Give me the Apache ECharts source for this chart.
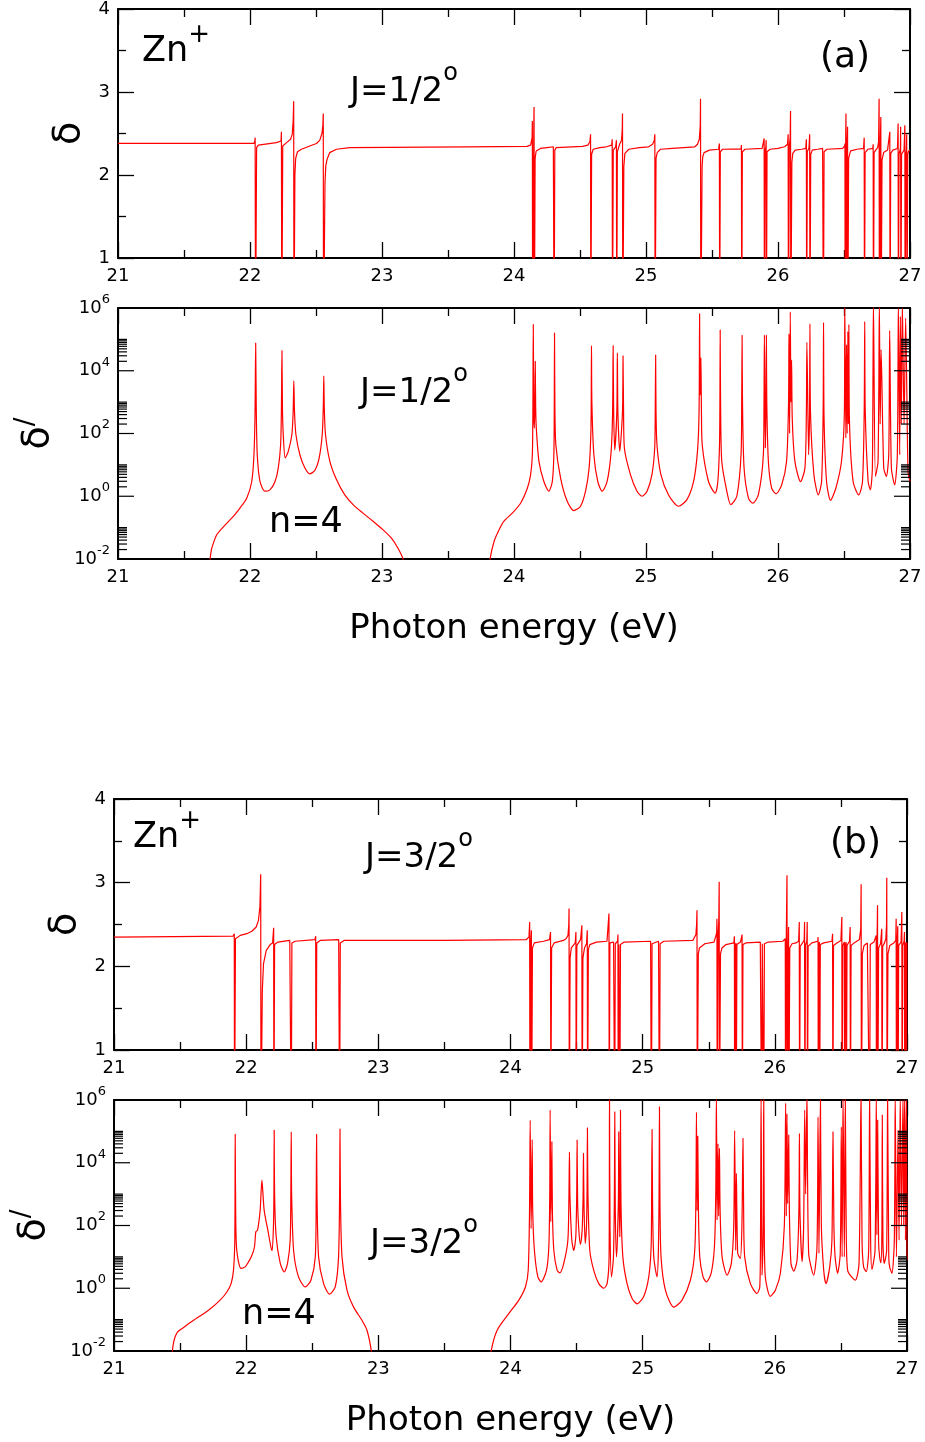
<!DOCTYPE html>
<html>
<head>
<meta charset="utf-8">
<script src="https://cdn.jsdelivr.net/npm/echarts@6/dist/echarts.min.js"></script>
<style>
html, body { margin: 0; padding: 0; background: #fff; }
#chart { width: 925px; height: 1442px; }
</style>
</head>
<body>
<div id="chart"></div>
<script>
// phase sum delta, J=1/2 odd  (values below 1 run off the bottom of the panel)
var deltaA = [
  [21.00,2.38],[22.00,2.38],[22.030,2.38],[22.037,2.41],[22.039,2.45],[22.042,0],[22.048,0],[22.050,2.33],[22.063,2.36],[22.200,2.39],[22.235,2.41],
  [22.238,2.52],[22.241,0],[22.246,0],[22.248,2.35],[22.277,2.39],[22.307,2.43],[22.320,2.49],[22.327,2.65],
  [22.331,2.89],[22.333,0],[22.338,0],[22.340,2.0],[22.346,2.2],[22.360,2.28],[22.390,2.31],[22.453,2.35],[22.504,2.38],[22.529,2.42],[22.545,2.50],[22.552,2.60],
  [22.555,2.74],[22.557,0],[22.565,0],[22.568,1.9],[22.574,2.11],[22.584,2.19],[22.604,2.27],[22.655,2.31],[22.756,2.33],[23.640,2.34],[24.100,2.345],
  [24.126,2.36],[24.137,2.45],[24.139,2.65],[24.141,0],[24.146,0],[24.150,2.60],[24.152,2.82],[24.154,0],[24.158,0],[24.160,2.20],[24.168,2.29],[24.200,2.32],[24.250,2.33],
  [24.298,2.34],[24.302,2.36],[24.304,0],[24.307,0],[24.309,2.30],[24.320,2.33],[24.520,2.345],[24.560,2.36],[24.575,2.40],
  [24.580,2.49],[24.582,0],[24.586,0],[24.588,2.25],[24.600,2.31],[24.650,2.33],[24.700,2.34],[24.740,2.36],
  [24.744,2.43],[24.746,0],[24.750,0],[24.752,2.30],[24.770,2.34],[24.776,2.42],[24.778,0],[24.781,0],[24.783,2.28],[24.800,2.37],[24.815,2.42],[24.820,2.55],
  [24.822,2.74],[24.824,0],[24.829,0],[24.832,2.10],[24.840,2.26],[24.870,2.31],[24.950,2.33],[25.020,2.34],[25.050,2.37],[25.063,2.42],
  [25.067,2.49],[25.069,0],[25.074,0],[25.076,2.20],[25.085,2.27],[25.110,2.31],[25.200,2.32],[25.370,2.34],[25.390,2.37],[25.404,2.43],[25.411,2.60],
  [25.413,2.92],[25.415,0],[25.422,0],[25.425,2.10],[25.430,2.22],[25.440,2.27],[25.480,2.30],[25.550,2.31],
  [25.554,2.32],[25.556,2.38],[25.558,0],[25.561,0],[25.563,2.28],[25.580,2.31],
  [25.720,2.315],[25.723,2.36],[25.725,0],[25.728,0],[25.730,2.28],[25.750,2.31],
  [25.880,2.32],[25.893,2.34],[25.895,2.44],[25.897,0],[25.900,0],[25.902,2.30],[25.908,2.34],[25.910,2.42],[25.912,0],[25.915,0],[25.917,2.28],[25.940,2.31],
  [26.000,2.32],[26.050,2.34],[26.072,2.37],[26.077,2.49],[26.079,0],[26.083,0],[26.086,2.35],[26.092,2.45],[26.095,2.77],[26.097,0],[26.102,0],[26.105,2.15],[26.112,2.26],[26.130,2.30],[26.180,2.31],
  [26.210,2.32],[26.215,2.43],[26.217,0],[26.220,0],[26.222,2.28],[26.235,2.33],[26.240,2.49],[26.242,0],[26.246,0],[26.248,2.25],[26.260,2.30],[26.300,2.31],
  [26.338,2.32],[26.342,2.34],[26.344,0],[26.347,0],[26.349,2.28],[26.370,2.31],
  [26.490,2.32],[26.505,2.35],[26.507,2.38],[26.509,0],[26.511,0],[26.513,2.50],[26.515,2.74],[26.517,0],[26.520,0],[26.524,2.40],[26.527,2.58],[26.529,0],[26.533,0],[26.535,2.20],[26.550,2.29],[26.600,2.31],
  [26.648,2.32],[26.653,2.45],[26.655,0],[26.658,0],[26.660,2.27],[26.680,2.31],
  [26.718,2.32],[26.721,2.37],[26.723,0],[26.726,0],[26.728,2.27],[26.740,2.30],
  [26.755,2.33],[26.762,2.40],[26.766,2.92],[26.768,0],[26.772,0],[26.776,2.45],[26.779,2.70],[26.781,0],[26.785,0],[26.788,2.18],[26.800,2.27],[26.830,2.30],
  [26.844,2.32],[26.847,2.52],[26.849,0],[26.852,0],[26.854,2.26],[26.870,2.30],
  [26.905,2.32],[26.910,2.62],[26.912,0],[26.915,0],[26.917,2.25],[26.927,2.32],[26.929,2.58],[26.931,0],[26.934,0],[26.936,2.25],[26.955,2.30],
  [26.961,2.60],[26.963,0],[26.966,0],[26.968,2.25],[26.973,2.30],[26.975,2.49],[26.977,0],[26.980,0],[26.983,2.25],[26.990,2.29],[27.000,2.30]
];

// derivative delta', J=1/2 odd (log scale)
var dprimeA = [
  [21.690,0.003],[21.698,0.01],[21.704,0.016],[21.710,0.022],[21.748,0.059],[21.811,0.12],[21.874,0.23],[21.924,0.42],[21.975,0.87],[22.013,2.9],[22.030,21],[22.038,400],
  [22.043,7.6e4],[22.048,400],[22.055,21],[22.076,2.9],[22.113,1.45],[22.151,1.6],[22.189,2.9],[22.214,7.9],[22.232,44],[22.238,600],
  [22.242,4.4e4],[22.246,600],[22.252,91],[22.267,16.6],[22.290,27],[22.317,91],[22.327,500],
  [22.332,4.8e3],[22.337,500],[22.348,91],[22.378,21],[22.416,7.9],[22.453,5.2],[22.491,6.6],[22.524,16.6],[22.547,91],[22.555,600],
  [22.559,6.9e3],[22.563,600],[22.572,91],[22.605,13],[22.655,3.4],[22.718,1.1],[22.781,0.54],[22.856,0.29],[22.932,0.16],[23.008,0.085],[23.070,0.047],[23.121,0.022],[23.159,0.01],[23.170,0.003],
  [23.810,0.003],[23.819,0.01],[23.849,0.036],[23.887,0.085],[23.924,0.16],[23.987,0.29],[24.050,0.60],[24.101,1.8],[24.126,4.9],[24.139,21],[24.143,500],
  [24.146,3e5],[24.150,500],[24.154,148],[24.158,800],[24.161,2e4],[24.164,800],[24.169,148],[24.189,13],[24.227,2.9],[24.264,1.45],[24.290,2.9],[24.302,21],[24.305,600],
  [24.307,1.6e5],[24.310,600],[24.317,44],[24.353,3.8],[24.403,0.69],[24.453,0.35],[24.504,0.48],[24.542,1.45],[24.569,7.9],[24.582,91],[24.585,1000],
  [24.587,6.3e4],[24.590,1000],[24.605,21],[24.635,2.9],[24.668,1.45],[24.705,2.9],[24.736,27],[24.747,500],
  [24.751,6.3e4],[24.755,500],[24.763,30],[24.779,500],[24.783,3.7e4],[24.787,500],[24.801,27],[24.822,500],[24.826,3e4],[24.830,500],[24.836,35],
  [24.882,4.9],[24.932,1.45],[24.970,1.0],[25.008,1.45],[25.045,4.9],[25.066,35],[25.070,500],[25.073,3.2e4],[25.076,500],[25.083,44],
  [25.113,4.9],[25.171,1.1],[25.247,0.48],[25.310,0.78],[25.360,2.9],[25.390,27],[25.402,500],[25.406,6.6e5],[25.409,3000],[25.411,1700],[25.416,2.6e4],[25.420,500],[25.426,44],
  [25.474,2.9],[25.524,1.26],[25.544,2.9],[25.557,44],[25.560,1000],[25.562,2e5],[25.565,1000],[25.574,13],
  [25.612,1.45],[25.642,0.54],[25.688,1.0],[25.720,21],[25.725,1000],[25.728,1.35e5],[25.731,1000],[25.743,7.9],
  [25.776,0.87],[25.809,0.6],[25.851,1.1],[25.889,21],[25.894,1000],[25.897,1.4e5],[25.904,35],[25.909,1000],[25.912,1.35e5],[25.915,1000],[25.927,13],
  [25.952,1.8],[25.985,1.2],[26.028,2.3],[26.065,13],[26.080,1000],[26.083,1.5e5],[26.088,100],[26.093,7.5e5],[26.098,1000],[26.103,2.2e4],[26.108,300],[26.128,13],
  [26.171,2.9],[26.204,7.9],[26.215,500],[26.219,8e4],[26.232,21],[26.239,500],[26.242,3.1e5],[26.246,500],[26.272,4.9],
  [26.305,1.1],[26.330,2.9],[26.342,500],[26.345,3.5e5],[26.349,300],[26.368,2.9],[26.398,0.74],[26.438,1.8],[26.481,13],
  [26.503,500],[26.506,1.5e6],[26.514,72],[26.519,6.8e4],[26.524,100],[26.529,1.8e5],[26.533,200],[26.537,3e5],[26.541,300],[26.569,2.9],
  [26.612,1.1],[26.640,2.9],[26.653,500],[26.657,3.7e5],[26.661,500],[26.683,2.9],[26.700,1.6],[26.715,7.9],[26.723,1.5e6],[26.738,4.3],
  [26.758,13],[26.768,1.5e6],[26.774,200],[26.781,4.7e4],[26.801,7.9],[26.821,4.3],[26.839,21],[26.846,1.9e5],[26.859,7.9],[26.884,2.3],
  [26.904,21],[26.912,1.5e6],[26.922,21],[26.927,5.4e5],[26.934,200],[26.942,1.5e6],[26.955,200],[26.967,4.8e5],[26.985,6.2],[27.000,2.9]
];

// phase sum delta, J=3/2 odd
var deltaB = [
  [21.00,2.35],[21.900,2.36],[21.910,2.39],[21.912,0],[21.917,0],[21.919,2.33],[21.955,2.37],[22.005,2.39],[22.043,2.42],[22.076,2.47],[22.093,2.55],[22.104,2.71],
  [22.110,3.10],[22.112,0],[22.118,0],[22.122,1.7],[22.131,2.03],[22.152,2.19],[22.182,2.26],[22.200,2.28],
  [22.208,2.46],[22.210,0],[22.213,0],[22.215,2.26],[22.240,2.29],[22.330,2.31],
  [22.339,2.32],[22.341,0],[22.344,0],[22.346,2.28],[22.370,2.30],[22.520,2.32],
  [22.526,2.36],[22.528,0],[22.532,0],[22.534,2.28],[22.560,2.31],[22.700,2.32],
  [22.705,2.33],[22.707,0],[22.710,0],[22.712,2.28],[22.740,2.31],[23.500,2.31],[24.120,2.32],
  [24.140,2.35],[24.145,2.53],[24.147,0],[24.151,0],[24.154,2.30],[24.158,2.43],[24.160,0],[24.164,0],[24.166,2.22],[24.180,2.28],[24.250,2.30],
  [24.295,2.32],[24.303,2.41],[24.305,0],[24.309,0],[24.311,2.22],[24.330,2.28],[24.400,2.31],
  [24.420,2.33],[24.435,2.37],[24.441,2.50],[24.443,2.69],[24.445,0],[24.449,0],[24.451,2.10],[24.460,2.22],
  [24.490,2.28],[24.495,2.41],[24.497,0],[24.500,0],[24.502,2.25],
  [24.530,2.32],[24.540,2.49],[24.542,0],[24.546,0],[24.548,2.10],[24.560,2.22],
  [24.575,2.27],[24.581,2.43],[24.583,0],[24.587,0],[24.589,2.20],[24.600,2.26],[24.650,2.29],[24.730,2.30],
  [24.740,2.32],[24.745,2.63],[24.747,0],[24.750,0],[24.752,2.28],[24.780,2.29],
  [24.786,2.31],[24.788,0],[24.791,0],[24.793,2.27],
  [24.810,2.30],[24.813,2.38],[24.815,0],[24.818,0],[24.820,2.26],[24.825,2.28],[24.827,0],[24.830,0],[24.832,2.26],[24.860,2.29],[25.060,2.30],
  [25.064,2.32],[25.066,0],[25.069,0],[25.071,2.27],[25.120,2.30],
  [25.125,2.31],[25.127,0],[25.130,0],[25.132,2.27],[25.160,2.30],[25.380,2.31],
  [25.390,2.33],[25.403,2.38],[25.408,2.50],[25.411,2.67],[25.413,0],[25.418,0],[25.421,2.15],[25.430,2.22],[25.470,2.27],[25.540,2.29],
  [25.555,2.31],[25.560,2.40],[25.562,2.57],[25.564,0],[25.568,0],[25.571,2.40],[25.576,2.55],[25.579,3.01],[25.581,0],[25.586,0],[25.589,2.15],[25.600,2.22],[25.630,2.26],[25.690,2.28],
  [25.694,2.36],[25.696,0],[25.699,0],[25.701,2.25],[25.706,2.28],[25.708,0],[25.711,0],[25.713,2.26],[25.740,2.29],
  [25.752,2.38],[25.754,0],[25.757,0],[25.759,2.26],[25.780,2.28],[25.890,2.29],
  [25.898,2.30],[25.900,0],[25.903,0],[25.905,2.27],[25.914,2.29],[25.916,0],[25.919,0],[25.921,2.27],[25.950,2.29],[26.060,2.30],
  [26.075,2.31],[26.079,2.33],[26.081,0],[26.084,0],[26.087,2.40],[26.092,3.09],[26.094,0],[26.099,0],[26.102,2.30],[26.104,2.47],[26.106,0],[26.110,0],[26.113,2.22],[26.130,2.27],[26.160,2.28],
  [26.180,2.30],[26.185,2.53],[26.187,0],[26.190,0],[26.192,2.24],[26.210,2.28],
  [26.222,2.31],[26.225,2.53],[26.227,0],[26.230,0],[26.232,2.25],[26.242,2.30],[26.245,2.53],[26.247,0],[26.250,0],[26.252,2.24],[26.280,2.28],
  [26.325,2.30],[26.327,2.35],[26.329,0],[26.332,0],[26.334,2.26],[26.337,2.29],[26.339,0],[26.342,0],[26.344,2.26],[26.370,2.28],
  [26.432,2.30],[26.437,2.39],[26.439,0],[26.442,0],[26.444,2.25],[26.470,2.28],
  [26.500,2.31],[26.507,2.59],[26.509,0],[26.512,0],[26.514,2.25],[26.526,2.29],[26.528,0],[26.531,0],[26.533,2.26],[26.539,2.29],[26.541,0],[26.544,0],[26.546,2.25],
  [26.565,2.30],[26.570,2.47],[26.572,0],[26.575,0],[26.577,2.25],[26.600,2.28],
  [26.640,2.32],[26.650,2.45],[26.653,2.98],[26.655,0],[26.659,0],[26.662,2.15],[26.675,2.25],[26.700,2.28],
  [26.715,2.30],[26.717,0],[26.720,0],[26.722,2.26],[26.750,2.29],
  [26.765,2.30],[26.767,2.37],[26.769,0],[26.772,0],[26.774,2.35],[26.777,2.73],[26.779,0],[26.783,0],[26.785,2.22],[26.800,2.27],
  [26.809,2.45],[26.811,0],[26.814,0],[26.816,2.24],[26.830,2.28],
  [26.840,2.33],[26.845,2.50],[26.847,3.06],[26.849,0],[26.853,0],[26.856,2.15],[26.870,2.25],[26.900,2.28],
  [26.915,2.31],[26.918,2.57],[26.920,0],[26.923,0],[26.925,2.25],[26.930,2.48],[26.932,0],[26.935,0],[26.937,2.25],[26.955,2.29],
  [26.961,2.65],[26.963,0],[26.966,0],[26.968,2.25],[26.978,2.30],[26.981,2.41],[26.983,0],[26.986,0],[26.988,2.26],[26.993,2.29],[26.995,0],[26.997,0],[26.999,2.26],[27.000,2.28]
];

// derivative delta', J=3/2 odd (log scale)
var dprimeB = [
  [21.435,0.003],[21.442,0.01],[21.448,0.016],[21.455,0.022],[21.462,0.028],[21.480,0.040],[21.513,0.051],[21.601,0.095],[21.715,0.2],[21.803,0.42],[21.854,0.76],[21.886,1.4],[21.904,3.7],[21.914,34],
  [21.917,8.1e4],[21.921,200],[21.929,16],[21.960,4.3],[21.992,4.8],[22.018,6.9],[22.043,11],[22.063,21],[22.073,63],[22.086,71],[22.106,310],
  [22.119,2800],[22.136,310],[22.164,71],[22.187,21],[22.197,16],[22.207,115],[22.210,1000],
  [22.212,1.1e5],[22.215,1000],[22.227,44],[22.258,6.2],[22.288,3.3],[22.313,6.2],[22.333,34],[22.338,1000],
  [22.341,9.7e4],[22.344,1000],[22.359,16],[22.396,2.3],[22.447,1.1],[22.490,1.8],[22.523,10],[22.530,1000],
  [22.533,8.1e4],[22.536,1000],[22.548,10],[22.586,1.4],[22.631,0.65],[22.674,1.1],[22.699,10],[22.707,1000],
  [22.710,1.2e5],[22.713,1000],[22.725,10],[22.763,0.87],[22.813,0.25],[22.876,0.095],[22.914,0.046],[22.947,0.01],[22.955,0.003],
  [23.848,0.003],[23.854,0.01],[23.899,0.046],[23.987,0.155],[24.063,0.42],[24.113,1.1],[24.134,3.7],[24.144,300],
  [24.149,2.3e5],[24.156,80],[24.164,5.5e4],[24.168,300],[24.181,16],[24.207,2.3],[24.232,1.6],[24.272,3.7],[24.290,21],[24.297,1000],
  [24.300,4.8e5],[24.305,130],[24.313,4.7e4],[24.317,300],[24.328,16],[24.353,3.7],[24.373,3.1],[24.403,6.2],[24.434,34],[24.442,800],
  [24.446,2.2e4],[24.450,800],[24.464,34],[24.479,16],[24.494,44],[24.501,1000],[24.504,5.3e4],[24.508,500],[24.517,71],[24.529,25],[24.542,71],[24.549,800],
  [24.552,2e4],[24.556,500],[24.565,27],[24.575,100],[24.579,1000],[24.582,1.3e5],[24.586,1000],[24.600,16],[24.630,3.7],[24.668,1.4],[24.706,1.0],[24.731,1.4],[24.746,10],
  [24.749,1.5e6],[24.753,100],[24.764,2.3],[24.779,10],[24.786,1000],[24.789,4.2e5],[24.793,300],[24.802,10],[24.816,500],[24.819,9.7e4],[24.824,300],[24.827,44],[24.830,1000],
  [24.832,4.8e5],[24.836,500],[24.850,10],[24.882,1.4],[24.920,0.47],[24.958,0.32],[25.008,0.55],[25.046,2.3],[25.064,21],[25.068,1000],
  [25.071,1.15e5],[25.075,500],[25.084,10],[25.109,2.3],[25.119,16],[25.124,1000],[25.127,6.1e5],[25.131,500],[25.139,10],
  [25.172,0.87],[25.235,0.25],[25.298,0.42],[25.361,1.8],[25.394,16],[25.403,1000],[25.407,4.1e5],[25.412,300],[25.417,7.1e4],[25.422,300],[25.432,10],
  [25.457,2.3],[25.482,1.6],[25.518,3],[25.543,21],[25.553,1000],[25.558,1.5e6],[25.563,150],[25.570,4.1e4],[25.575,200],[25.581,2.9e4],[25.586,300],[25.601,10],
  [25.639,2.6],[25.671,6.2],[25.689,100],[25.696,1.05e5],[25.704,16],[25.709,4600],[25.719,13],[25.739,9],[25.751,100],[25.759,6e4],[25.764,300],[25.772,10],
  [25.815,1.4],[25.865,0.68],[25.886,1.1],[25.892,100],[25.896,1.5e6],[25.903,2.6],[25.912,100],[25.916,1.5e6],[25.920,100],[25.928,2.3],
  [25.966,0.55],[26.004,0.87],[26.042,3],[26.072,100],[26.082,8e5],[26.087,200],[26.092,3.7e5],[26.097,500],[26.105,7.7e4],[26.110,300],[26.122,6.2],
  [26.143,3.5],[26.168,7.8],[26.182,300],[26.186,8.6e4],[26.190,300],[26.206,7],[26.218,100],[26.226,4.8e5],[26.233,1000],[26.243,1.5e6],[26.256,13],
  [26.294,2.6],[26.319,21],[26.327,2.9e5],[26.334,13],[26.345,1.5e6],[26.352,100],[26.370,3.7],[26.387,1.4],[26.415,4.7],[26.432,34],
  [26.440,9.7e4],[26.447,100],[26.456,10],[26.475,3],[26.495,13],[26.503,1.4e5],[26.509,10],[26.516,1.5e6],[26.526,10],[26.533,1.5e6],[26.540,100],[26.551,3.7],
  [26.609,1.8],[26.637,6.2],[26.652,1.5e6],[26.660,30],[26.672,4.7],[26.692,3.4],[26.710,16],[26.717,1.5e6],[26.725,30],[26.735,4],
  [26.758,16],[26.768,1.5e6],[26.772,50],[26.778,2.3e5],[26.785,30],[26.793,10],[26.803,6.5],[26.810,60],[26.813,3.3e5],[26.818,30],[26.828,6.2],
  [26.846,16],[26.853,1.5e6],[26.862,10],[26.869,4.7],[26.886,3],[26.904,34],[26.911,1.5e6],[26.920,10],[26.932,1.1e5],[26.940,34],
  [26.949,1.5e6],[26.958,100],[26.970,1.5e6],[26.975,100],[26.982,1.5e6],[26.988,34],[26.995,1.5e6],[27.000,8]
];

// log axis tick values
var logMajorTicks = [0.01, 1, 100, 1e4, 1e6];
var logMinorTicks = [
  0.02,0.03,0.04,0.05,0.06,0.07,0.08,0.09,0.1,
  2,3,4,5,6,7,8,9,10,
  200,300,400,500,600,700,800,900,1000,
  2e4,3e4,4e4,5e4,6e4,7e4,8e4,9e4,1e5
];

var FONT = 'DejaVu Sans';
var RED = '#ff0000';
var grids = [
  { left: 118, top: 7, width: 792, height: 251 },
  { left: 118, top: 308, width: 792, height: 251 },
  { left: 114, top: 799, width: 793, height: 251 },
  { left: 114, top: 1100, width: 793, height: 251 }
];

var myChart = echarts.init(document.getElementById('chart'), null, { renderer: 'canvas' });

var xAxes = [], yAxes = [], series = [];
var axisLine = { onZero: false, lineStyle: { color: '#000', width: 2 } };
var tickStyle = { color: '#000', width: 1.3 };

grids.forEach(function (g, i) {
  var isLog = (i % 2 === 1);
  // bottom and top x axes
  [ 'bottom', 'top' ].forEach(function (pos) {
    var ax = {
      gridIndex: i, type: 'value', position: pos, min: 21, max: 27, interval: 1,
      axisLine: axisLine,
      axisTick: { inside: true, length: 16, lineStyle: tickStyle },
      minorTick: { show: true, splitNumber: 2, length: 8, lineStyle: tickStyle },
      splitLine: { show: false },
      axisLabel: { show: pos === 'bottom', color: '#000', fontSize: 18, fontFamily: FONT, margin: 9 }
    };
    if (isLog && pos === 'bottom') {
      ax.name = 'Photon energy (eV)';
      ax.nameLocation = 'middle';
      ax.nameGap = 53;
      ax.nameTextStyle = { color: '#000', fontSize: 34, fontFamily: FONT };
    }
    xAxes.push(ax);
  });
  // left and right y axes
  [ 'left', 'right' ].forEach(function (pos) {
    var ax;
    if (isLog) {
      ax = {
        gridIndex: i, type: 'log', logBase: 10, position: pos, min: 0.01, max: 1e6, splitNumber: 8,
        axisLine: axisLine,
        axisTick: { show: false },
        splitLine: { show: false },
        axisLabel: {
          show: pos === 'left', margin: 8, color: '#000', fontFamily: FONT,
          formatter: function (v) {
            var e = Math.round(Math.log10(v));
            if (e % 2 !== 0) return '';
            return '{m|10}{s|' + e + '}';
          },
          rich: {
            m: { fontSize: 18, lineHeight: 30, fontFamily: FONT, color: '#000' },
            s: { fontSize: 13, lineHeight: 14, verticalAlign: 'top', fontFamily: FONT, color: '#000' }
          }
        }
      };
      if (pos === 'left') {
        ax.name = 'δ{p|/}';
        ax.nameLocation = 'middle';
        ax.nameGap = 55;
        ax.nameRotate = 90;
        ax.nameTextStyle = {
          color: '#000', fontSize: 38, fontFamily: FONT, lineHeight: 50,
          rich: { p: { fontSize: 26, lineHeight: 26, verticalAlign: 'top', fontFamily: FONT, color: '#000' } }
        };
      }
    } else {
      ax = {
        gridIndex: i, type: 'value', position: pos, min: 1, max: 4, interval: 1,
        axisLine: axisLine,
        axisTick: { inside: true, length: 16, lineStyle: tickStyle },
        minorTick: { show: true, splitNumber: 2, length: 8, lineStyle: tickStyle },
        splitLine: { show: false },
        axisLabel: { show: pos === 'left', color: '#000', fontSize: 18, fontFamily: FONT, margin: 8 }
      };
      if (pos === 'left') {
        ax.name = 'δ';
        ax.nameLocation = 'middle';
        ax.nameGap = 30;
        ax.nameRotate = 90;
        ax.nameTextStyle = { color: '#000', fontSize: 38, fontFamily: FONT };
      }
    }
    yAxes.push(ax);
  });
});

var curves = [deltaA, dprimeA, deltaB, dprimeB];
curves.forEach(function (d, i) {
  var isLog = (i % 2 === 1);
  series.push({
    type: 'line',
    xAxisIndex: i * 2,
    yAxisIndex: i * 2,
    data: d,
    showSymbol: false,
    symbol: 'none',
    clip: true,
    smooth: isLog ? 0.25 : false,
    lineStyle: { color: RED, width: 1.2 },
    z: 3
  });
});

// log-axis ticks drawn on both sides (major every 2 decades, minor cluster above each)
var logTickData = logMajorTicks.map(function (v) { return [21, v, 16]; })
  .concat(logMinorTicks.map(function (v) { return [21, v, 9]; }));

function renderLogTick(params, api) {
  var v = api.value(1), len = api.value(2);
  var l = api.coord([21, v]), r = api.coord([27, v]);
  return {
    type: 'group',
    children: [
      { type: 'line', shape: { x1: l[0], y1: l[1], x2: l[0] + len, y2: l[1] }, style: { stroke: '#000', lineWidth: 1.2 } },
      { type: 'line', shape: { x1: r[0] - len, y1: r[1], x2: r[0], y2: r[1] }, style: { stroke: '#000', lineWidth: 1.2 } }
    ]
  };
}
[1, 3].forEach(function (i) {
  series.push({
    type: 'custom',
    xAxisIndex: i * 2,
    yAxisIndex: i * 2,
    data: logTickData,
    encode: { x: 0, y: 1 },
    renderItem: renderLogTick,
    silent: true,
    clip: false,
    z: 5
  });
});

function supText(x, y, main, sup, size, supSize, lh) {
  return {
    type: 'text', x: x, y: y, z: 10,
    style: {
      text: '{m|' + main + '}{s|' + sup + '}',
      align: 'left', verticalAlign: 'middle',
      rich: {
        m: { fontSize: size, lineHeight: lh, fontFamily: FONT, fill: '#000' },
        s: { fontSize: supSize, lineHeight: supSize, verticalAlign: 'top', fontFamily: FONT, fill: '#000' }
      }
    }
  };
}
function plainText(x, y, txt, size) {
  return {
    type: 'text', x: x, y: y, z: 10,
    style: { text: txt, align: 'left', verticalAlign: 'middle', fontSize: size, fontFamily: FONT, fill: '#000' }
  };
}

var option = {
  animation: false,
  backgroundColor: '#fff',
  grid: grids,
  xAxis: xAxes,
  yAxis: yAxes,
  series: series,
  graphic: [
    supText(142, 52, 'Zn', '+', 35, 26, 60),
    supText(350, 92, 'J=1/2', 'o', 34, 24, 60),
    plainText(820, 58, '(a)', 36),
    supText(360, 393, 'J=1/2', 'o', 34, 24, 60),
    plainText(269, 523, 'n=4', 35),
    supText(133, 838, 'Zn', '+', 35, 26, 60),
    supText(365, 858, 'J=3/2', 'o', 34, 24, 60),
    plainText(830, 844, '(b)', 36),
    supText(370, 1244, 'J=3/2', 'o', 34, 24, 60),
    plainText(242, 1315, 'n=4', 35)
  ]
};
myChart.setOption(option);
</script>
</body>
</html>
